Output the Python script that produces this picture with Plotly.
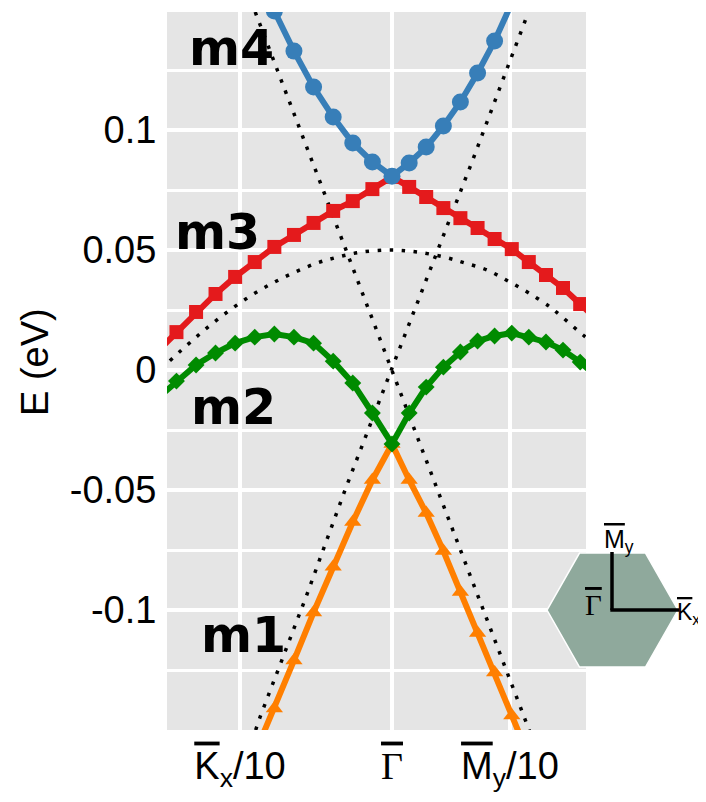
import plotly.graph_objects as go

# ---------------- data (k in 1/Å-like units, E in eV) ----------------
k = [-0.1547, -0.1418, -0.1289, -0.1161, -0.1032, -0.0903, -0.0774, -0.0645,
     -0.0516, -0.0387, -0.0258, -0.0129, 0.0,
     0.0113, 0.0225, 0.0338, 0.0450, 0.0563, 0.0675, 0.0788, 0.0900,
     0.1013, 0.1125, 0.1238, 0.1350]

m1 = [None, None, None, None, None, -0.1600, -0.1410, -0.1210, -0.1010, -0.0820,
      -0.0633, -0.0458, -0.0308,
      -0.0458, -0.0596, -0.0754, -0.0925, -0.1096, -0.1260, -0.1440, -0.1610,
      None, None, None, None]

m2 = [-0.0120, -0.0046, 0.0021, 0.0071, 0.0112, 0.0137, 0.0150, 0.0137, 0.0112,
      0.0037, -0.0054, -0.0179, -0.0308,
      -0.0179, -0.0071, 0.0012, 0.0075, 0.0121, 0.0142, 0.0154, 0.0137,
      0.0117, 0.0083, 0.0033, -0.0030]

m3 = [0.0075, 0.0158, 0.0242, 0.0317, 0.0388, 0.0450, 0.0513, 0.0563, 0.0613,
      0.0663, 0.0704, 0.0754, 0.0805,
      0.0763, 0.0721, 0.0675, 0.0633, 0.0592, 0.0546, 0.0504, 0.0450,
      0.0396, 0.0342, 0.0275, 0.0210]

m4 = [None, None, None, None, None, None, 0.1496, 0.1329, 0.1179, 0.1054,
      0.0946, 0.0867, 0.0808,
      0.0863, 0.0929, 0.1017, 0.1117, 0.1238, 0.1371, 0.1530, None,
      None, None, None, None]

# unperturbed (dotted) bands
dome_k = [-0.1520, -0.1355, -0.1211, -0.1066, -0.0921, -0.0783, -0.0638, -0.0493,
          -0.0355, -0.0197, 0.0, 0.0164, 0.0342, 0.0480, 0.0625, 0.0763, 0.0901,
          0.1039, 0.1105, 0.1257, 0.1300]
dome_E = [0.0005, 0.0100, 0.0179, 0.0250, 0.0313, 0.0363, 0.0408, 0.0446,
          0.0471, 0.0492, 0.0500, 0.0492, 0.0471, 0.0446, 0.0417, 0.0371, 0.0321,
          0.0263, 0.0229, 0.0146, 0.0125]

coneA_k = [-0.0900, -0.0428, -0.0079, 0.0, 0.0283, 0.0579, 0.0875, 0.0908]
coneA_E = [0.1492, 0.0708, 0.0125, -0.0004, -0.0471, -0.0967, -0.1458, -0.1510]

coneB_k = [-0.0897, -0.0868, -0.0566, -0.0309, 0.0, 0.0132, 0.0526, 0.0895]
coneB_E = [-0.1500, -0.1446, -0.0946, -0.0500, 0.0008, 0.0225, 0.0867, 0.1488]

OL = '<span style="text-decoration:overline">'
x_tickvals = [-0.1, 0.0, 0.0776]
x_ticktext = [OL + 'K</span><sub>x</sub>/10',
              '<span style="font-family:Liberation Serif;text-decoration:overline">Γ</span>',
              OL + 'M</span><sub>y</sub>/10']
y_tickvals = [-0.1, -0.05, 0.0, 0.05, 0.1]
y_ticktext = ["-0.1", "-0.05", "0", "0.05", "0.1"]
y_title = "E (eV)"

band_labels = ["m4", "m3", "m2", "m1"]
band_label_k = [-0.1053, -0.1151, -0.1046, -0.0974]
band_label_E = [0.1340, 0.0575, -0.0158, -0.1108]

# ---------------- figure ----------------
fig = go.Figure()
dot = dict(color="black", width=3.5, dash="3.5px,8.5px")
fig.add_trace(go.Scatter(x=dome_k, y=dome_E, mode="lines", line=dict(shape="spline", **dot)))
fig.add_trace(go.Scatter(x=coneA_k, y=coneA_E, mode="lines", line=dot))
fig.add_trace(go.Scatter(x=coneB_k, y=coneB_E, mode="lines", line=dot))

series = [
    (m1, "#FF7F00", "triangle-up", 15),
    (m2, "#008B00", "diamond", 13),
    (m3, "#E41A1C", "square", 14),
    (m4, "#377EB8", "circle", 17),
]
for e, c, sym, sz in series:
    fig.add_trace(go.Scatter(x=k, y=e, mode="lines+markers",
                             line=dict(color=c, width=6),
                             marker=dict(color=c, symbol=sym, size=sz)))

for t, xk, ye in zip(band_labels, band_label_k, band_label_E):
    fig.add_annotation(x=xk, y=ye, text=f"<b>{t}</b>", showarrow=False,
                       font=dict(family="DejaVu Sans", size=49, color="black"),
                       xanchor="center", yanchor="middle")

# ---------------- layout geometry (page pixels; page has an 8px body margin) ----------------
PAGE_W, PAGE_H, OFF = 706, 802, 8
L, R, T, B = 167, 586, 12, 730   # plot area in page pixels

def pp(px, py):
    return (px - L) / (R - L), (B - py) / (B - T)

# y-axis title as rotated text
tx, ty = pp(35, 362)
fig.add_annotation(x=tx, y=ty, xref="paper", yref="paper", text=y_title, showarrow=False,
                   textangle=-90, font=dict(family="Liberation Sans", size=38, color="black"),
                   xanchor="center", yanchor="middle")

# Brillouin-zone inset (decoration)
hexpx = [(547, 610), (579.5, 553), (645.5, 553), (678, 610), (645.5, 667), (579.5, 667)]
pts = [pp(*p) for p in hexpx]
path = "M " + " L ".join(f"{x:.4f},{y:.4f}" for x, y in pts) + " Z"
fig.add_shape(type="path", path=path, xref="paper", yref="paper",
              fillcolor="#8FA99C", line=dict(color="white", width=1.5), layer="above")
x0, y0 = pp(612, 610)
x1, y1 = pp(612, 552)
x2, y2 = pp(679, 610)
fig.add_shape(type="line", xref="paper", yref="paper", x0=x0, y0=y0, x1=x1, y1=y1,
              line=dict(color="black", width=3.5), layer="above")
fig.add_shape(type="line", xref="paper", yref="paper", x0=x0 - 0.004, y0=y0, x1=x2, y1=y2,
              line=dict(color="black", width=3.5), layer="above")

inset_labels = [(OL + "M</span><sub>y</sub>", 603, 541, "Liberation Sans", 25),
                ('<span style="text-decoration:overline">\u0393</span>', 584, 605, "Liberation Serif", 29),
                (OL + "K</span><sub>x</sub>", 676, 613, "Liberation Sans", 23)]
for txt, px, py, fam, fs in inset_labels:
    ax, ay = pp(px, py)
    fig.add_annotation(x=ax, y=ay, xref="paper", yref="paper", text=txt, showarrow=False,
                       font=dict(family=fam, size=fs, color="black"),
                       xanchor="left", yanchor="middle", borderpad=0)

fig.update_layout(
    width=PAGE_W - OFF, height=PAGE_H - OFF,
    margin=dict(l=L - OFF, r=PAGE_W - R, t=T - OFF, b=PAGE_H - B, autoexpand=False),
    paper_bgcolor="white", plot_bgcolor="#E5E5E5",
    showlegend=False,
    font=dict(family="Liberation Sans", size=38, color="black"),
)
fig.update_xaxes(range=[(L - 392) / 1520, (R - 392) / 1520], automargin=False,
                 tickvals=x_tickvals, ticktext=x_ticktext,
                 showgrid=True, gridcolor="white", gridwidth=3.5, zeroline=False,
                 ticks="outside", ticklen=2, tickcolor="rgba(0,0,0,0)",
                 tickfont=dict(size=38))
fig.update_yaxes(range=[-0.15, 0.1492], automargin=False,
                 tickvals=y_tickvals, ticktext=y_ticktext,
                 showgrid=True, gridcolor="white", gridwidth=3.5, zeroline=False,
                 minor=dict(dtick=0.025, tick0=0, showgrid=True, gridcolor="white", gridwidth=3),
                 ticks="outside", ticklen=2, tickcolor="rgba(0,0,0,0)",
                 tickfont=dict(size=38))

fig.write_html("out.html")
